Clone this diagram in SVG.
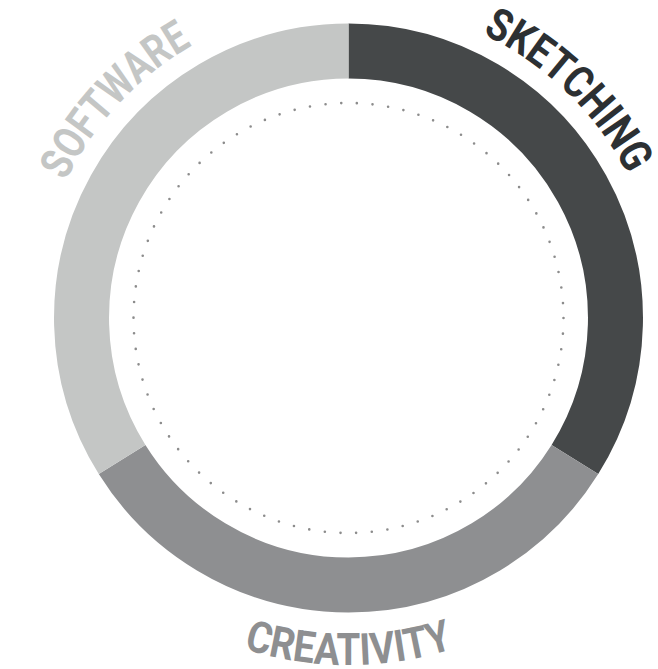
<svg xmlns="http://www.w3.org/2000/svg" width="658" height="669" viewBox="0 0 658 669">
  <style>
    .seg { fill: none; stroke-width: 55; stroke-linecap: butt; }
    .lbl { font-family: Roboto, "Liberation Sans", sans-serif; font-weight: 700; }
  </style>
  <defs>
    <path id="pSketch" d="M 424.5 13.3 A 314 314 0 0 1 650.3 231.5"/>
    <path id="pSoft" d="M 42.5 247.3 A 314 314 0 0 1 256.7 17.7"/>
    <path id="pCrea" d="M 124.8 583.0 A 346 346 0 0 0 572.2 583.0"/>
  </defs>
  <rect width="658" height="669" fill="#ffffff"/>
  <g id="connectors">
    <circle cx="348.5" cy="318" r="215" fill="none" stroke="#8c8c8c" stroke-width="2.6" stroke-linecap="round" stroke-dasharray="0 15.71"/>
  </g>
  <g id="sketching">
    <path class="seg" stroke="#454849" d="M 348.5 51 A 267 267 0 0 1 574.9 459.5"/>
    <text class="lbl" font-size="45" fill="#2c3033"><textPath href="#pSketch" startOffset="50%" text-anchor="middle" textLength="206" lengthAdjust="spacingAndGlyphs">SKETCHING</textPath></text>
  </g>
  <g id="creativity">
    <path class="seg" stroke="#8e8f91" d="M 574.9 459.5 A 267 267 0 0 1 122.1 459.5"/>
    <text class="lbl" font-size="44" fill="#8e8f91"><textPath href="#pCrea" startOffset="50%" text-anchor="middle" textLength="213" lengthAdjust="spacingAndGlyphs">CREATIVITY</textPath></text>
  </g>
  <g id="software">
    <path class="seg" stroke="#c4c6c5" d="M 122.1 459.5 A 267 267 0 0 1 348.5 51"/>
    <text class="lbl" font-size="45" fill="#c4c6c5"><textPath href="#pSoft" startOffset="50%" text-anchor="middle" textLength="188" lengthAdjust="spacingAndGlyphs">SOFTWARE</textPath></text>
  </g>
</svg>
